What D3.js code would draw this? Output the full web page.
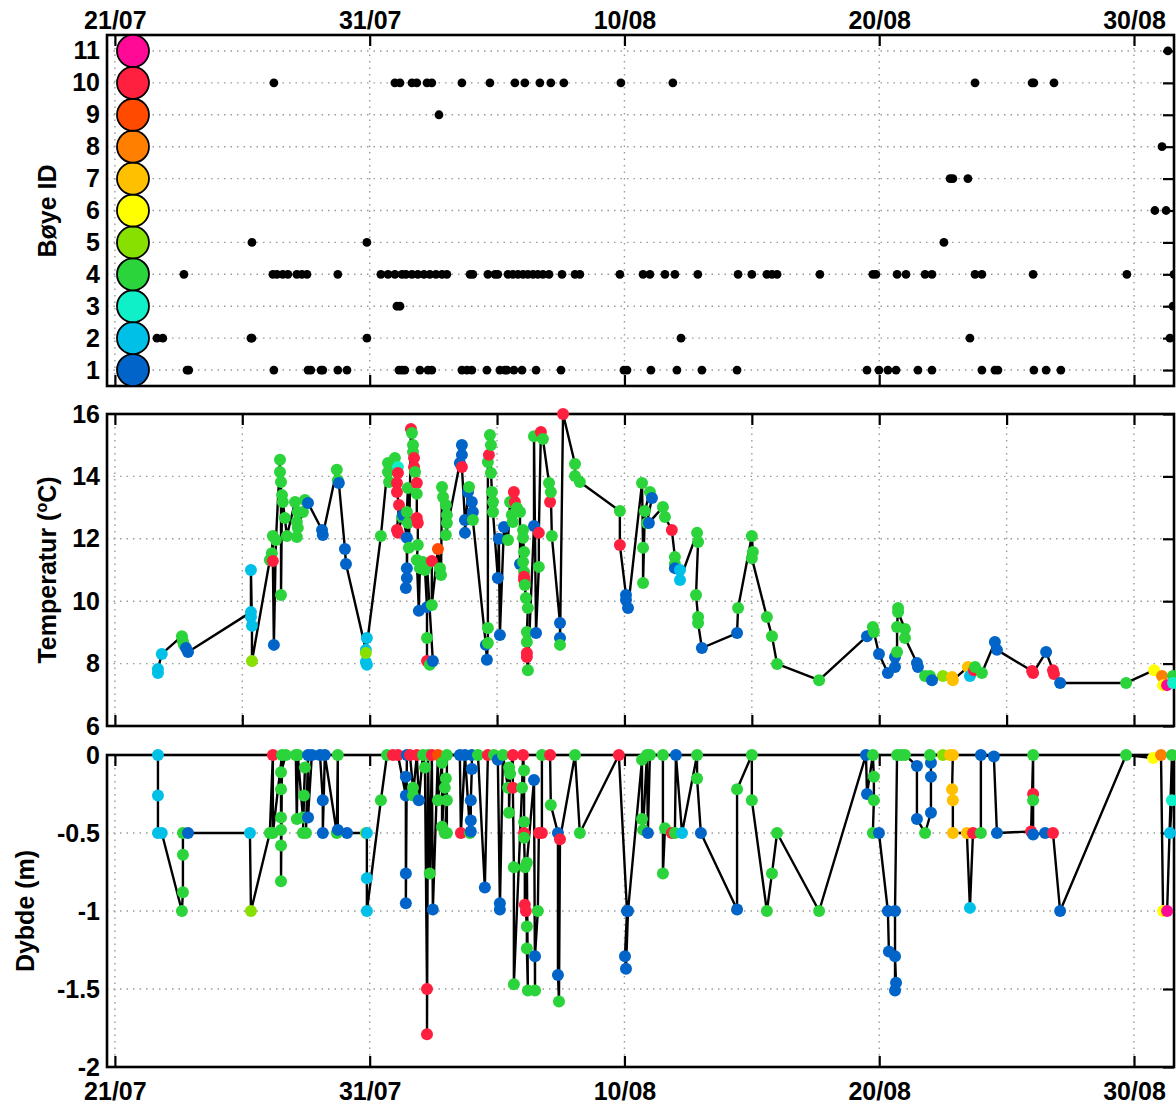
<!DOCTYPE html>
<html lang="no">
<head>
<meta charset="utf-8">
<title>Bøyer - temperatur og dybde</title>
<script src="https://cdn.jsdelivr.net/npm/d3@7/dist/d3.min.js"></script>
<style>
  body { margin: 0; background: #fff; }
</style>
</head>
<body>
<script>
// all times are days after 21/07 00:00

// colour for each buoy, index = id - 1
var buoyColors = ["#0064c8", "#00c0e8", "#10f0c8", "#2ad43a", "#88e000",
                  "#ffff00", "#ffc000", "#ff8000", "#ff4a00", "#ff2040", "#ff0a96"];
var buoyIds = [1, 2, 3, 4, 5, 6, 7, 8, 9, 10, 11];

var dateTicks = [0, 10, 20, 30, 40];
var dateTicksFine = [0, 5, 10, 15, 20, 25, 30, 35, 40];
var tempTicks = [6, 8, 10, 12, 14, 16];
var tempGrid = [8, 10, 12, 14];
var depthTicks = [0, -0.5, -1, -1.5, -2];
var depthGrid = [-0.5, -1, -1.5];

// [day, buoy id]
var buoyObs = [
  [2.83,1],[2.90,1],[6.24,1],[7.58,1],[7.69,1],[8.09,1],[8.16,1],[8.75,1],[9.11,1],[11.15,1],
  [11.27,1],[11.38,1],[11.97,1],[12.29,1],[12.44,1],[13.62,1],[13.82,1],[14.01,1],[14.60,1],
  [15.11,1],[15.31,1],[15.39,1],[15.66,1],[15.98,1],[16.53,1],[17.51,1],[19.98,1],[20.10,1],
  [21.04,1],[22.06,1],[23.04,1],[24.42,1],[29.52,1],[29.99,1],[30.34,1],[30.66,1],[31.52,1],
  [32.07,1],[34.03,1],[34.54,1],[34.66,1],[36.07,1],[36.55,1],[37.13,1],
  [1.65,2],[1.88,2],[5.34,2],[5.38,2],[9.89,2],[22.22,2],[33.56,2],[41.41,2],
  [11.07,3],[11.19,3],[41.53,3],
  [2.71,4],[6.20,4],[6.36,4],[6.59,4],[6.79,4],[7.14,4],[7.34,4],[7.54,4],[8.75,4],[10.44,4],
  [10.72,4],[10.99,4],[11.27,4],[11.42,4],[11.66,4],[11.89,4],[12.13,4],[12.36,4],[12.60,4],
  [12.84,4],[13.03,4],[13.94,4],[14.05,4],[14.64,4],[14.92,4],[15.03,4],[15.43,4],[15.62,4],
  [15.82,4],[16.02,4],[16.21,4],[16.41,4],[16.60,4],[16.80,4],[17.04,4],[17.55,4],[18.06,4],
  [18.25,4],[19.82,4],[20.73,4],[21.00,4],[21.59,4],[21.98,4],[22.88,4],[24.46,4],[25.00,4],
  [25.59,4],[25.79,4],[25.99,4],[27.67,4],[29.75,4],[29.87,4],[30.70,4],[31.05,4],[31.80,4],
  [32.07,4],[33.76,4],[34.03,4],[36.04,4],[39.72,4],[41.57,4],
  [5.38,5],[9.89,5],[32.54,5],
  [40.82,6],[41.26,6],
  [32.78,7],[32.89,7],[33.48,7],
  [41.10,8],
  [12.72,9],
  [6.24,10],[10.99,10],[11.19,10],[11.66,10],[11.85,10],[12.25,10],[12.44,10],[13.62,10],
  [14.72,10],[15.70,10],[16.09,10],[16.68,10],[17.11,10],[17.62,10],[19.86,10],[21.90,10],
  [33.76,10],[36.00,10],[36.07,10],[36.86,10],
  [41.33,11]
];

// [day, temperature degC, buoy id], in logging order
var tempObs = [
  [1.69,7.70,2],[1.69,7.83,2],[1.84,8.31,2],[2.63,8.88,4],[2.67,8.72,4],[2.71,8.60,4],
  [2.79,8.50,1],[2.87,8.37,1],[5.34,9.65,2],[5.34,9.49,2],[5.34,11.00,2],[5.38,9.21,2],
  [5.38,8.08,5],[6.08,11.32,4],[6.16,11.54,4],[6.20,12.09,4],[6.20,11.29,10],[6.24,8.60,1],
  [6.32,11.96,4],[6.48,14.53,4],[6.48,14.14,4],[6.52,13.82,4],[6.52,10.20,4],[6.56,13.40,4],
  [6.59,13.18,4],[6.67,12.67,4],[6.75,12.09,4],[7.07,13.18,4],[7.14,12.54,4],[7.14,12.06,4],
  [7.18,12.86,4],[7.18,12.35,4],[7.38,12.86,4],[7.46,13.24,4],[7.58,13.15,1],[8.13,12.28,1],
  [8.16,12.12,1],[8.71,14.21,4],[8.75,13.88,4],[8.79,13.79,1],[9.03,11.67,1],[9.07,11.19,1],
  [9.85,8.44,2],[9.85,8.05,2],[9.89,7.96,2],[9.89,8.82,2],[9.85,8.34,5],[10.44,12.09,4],
  [10.72,14.43,4],[10.72,14.14,4],[10.76,13.82,4],[10.99,14.59,4],[11.07,13.79,10],[11.11,14.30,3],
  [11.11,14.11,10],[11.07,13.50,10],[11.15,13.08,10],[11.07,12.28,10],[11.11,12.19,10],[11.27,12.70,4],
  [11.31,12.76,1],[11.46,12.03,1],[11.46,11.06,1],[11.42,10.42,1],[11.46,10.74,1],[11.50,13.63,4],
  [11.46,12.86,4],[11.50,12.51,4],[11.54,11.71,4],[11.62,15.52,10],[11.66,15.39,4],[11.70,15.01,4],
  [11.70,14.78,4],[11.74,14.59,10],[11.74,14.30,10],[11.78,14.14,4],[11.85,13.79,10],[11.85,13.44,4],
  [11.85,12.67,10],[11.89,12.51,10],[11.89,11.80,4],[11.85,11.32,4],[11.93,9.69,1],[11.97,11.06,4],
  [12.09,11.26,4],[12.17,11.00,4],[12.25,9.81,1],[12.25,8.82,4],[12.25,8.08,10],[12.36,7.96,4],
  [12.48,8.08,1],[12.25,11.16,4],[12.44,11.29,10],[12.44,9.88,4],[12.68,11.67,9],[12.76,11.06,4],
  [12.80,10.84,4],[12.84,13.66,4],[12.88,13.34,4],[12.99,13.08,4],[13.03,12.76,4],[13.03,12.51,4],
  [12.99,12.12,4],[13.54,14.43,1],[13.62,14.69,1],[13.62,15.01,1],[13.62,14.30,10],[13.74,12.60,1],
  [13.74,12.19,1],[13.86,13.50,1],[13.90,13.66,4],[14.01,13.18,1],[14.05,12.86,1],[14.05,12.60,4],
  [14.56,8.60,1],[14.60,8.12,1],[14.64,8.66,4],[14.64,9.14,4],[14.64,14.46,4],[14.68,14.69,10],
  [14.72,15.33,4],[14.76,15.01,4],[14.76,14.11,4],[14.80,13.50,4],[14.84,13.18,4],[14.84,12.86,4],
  [15.03,10.74,1],[15.07,12.00,1],[15.11,8.92,1],[15.27,12.38,1],[15.43,11.96,4],[15.51,13.18,4],
  [15.58,12.76,4],[15.62,12.54,4],[15.66,13.50,10],[15.70,13.18,10],[15.78,12.99,4],[15.90,12.86,4],
  [15.90,11.19,1],[16.02,12.28,4],[16.02,12.03,4],[16.06,11.58,4],[16.02,11.26,4],[16.06,10.94,4],
  [16.06,10.78,10],[16.06,10.68,10],[16.09,10.52,4],[16.13,10.10,4],[16.21,9.78,4],[16.17,9.01,4],
  [16.17,8.69,4],[16.17,8.34,10],[16.17,8.21,10],[16.21,7.79,4],[16.45,12.41,1],[16.45,15.29,4],
  [16.53,8.98,1],[16.64,11.10,4],[16.64,12.19,10],[16.72,15.42,10],[16.80,15.20,4],[17.04,13.79,4],
  [17.08,13.18,10],[17.11,13.50,4],[17.15,12.09,4],[17.47,9.30,1],[17.47,8.82,1],[17.47,8.60,4],
  [17.59,16.00,10],[18.06,14.40,4],[18.06,14.01,4],[18.25,13.82,4],[19.82,12.89,4],[19.82,11.80,10],
  [20.06,10.20,1],[20.06,10.04,1],[20.14,9.78,1],[20.69,13.79,4],[20.73,11.71,4],[20.73,10.58,4],
  [20.80,12.89,4],[21.00,13.50,4],[21.08,13.31,1],[20.88,12.51,4],[20.96,12.51,1],[21.51,13.02,4],
  [21.59,12.70,4],[21.86,12.28,10],[21.98,11.42,4],[21.98,11.19,4],[21.98,11.06,1],[22.18,11.00,2],
  [22.18,10.68,2],[22.85,12.19,4],[22.89,11.90,4],[22.81,10.20,4],[22.89,9.49,4],[22.89,9.30,4],
  [23.04,8.50,1],[24.42,8.98,1],[24.46,9.78,4],[25.00,12.09,4],[25.04,11.58,4],[25.00,11.38,4],
  [25.59,9.49,4],[25.79,8.88,4],[25.99,7.99,4],[27.64,7.47,4],[29.52,8.88,1],[29.75,9.17,4],
  [29.79,9.01,4],[29.99,8.31,1],[30.34,7.70,1],[30.62,7.89,1],[30.62,8.21,1],[30.70,8.37,4],
  [30.70,9.17,4],[30.74,9.78,4],[30.74,9.65,4],[31.01,9.11,4],[31.01,8.82,4],[31.48,8.02,1],
  [31.52,7.89,1],[31.80,7.60,4],[31.99,7.60,4],[32.07,7.47,1],[32.50,7.60,5],[32.86,7.57,7],
  [32.89,7.47,7],[33.48,7.89,7],[33.56,7.60,2],[33.72,7.79,10],[33.76,7.89,4],[34.03,7.70,4],
  [34.54,8.69,1],[34.62,8.44,1],[36.00,7.76,10],[36.04,7.70,10],[36.55,8.37,1],[36.82,7.79,10],
  [36.86,7.67,10],[37.10,7.38,1],[39.69,7.38,4],[40.79,7.79,6],[41.10,7.60,8],[41.14,7.31,6],
  [41.30,7.31,11],[41.53,7.60,4],[41.53,7.38,3]
];

// [day, depth m, buoy id], in logging order
var depthObs = [
  [1.69,0,2],[1.69,-0.26,2],[1.69,-0.50,2],[1.84,-0.50,2],[2.63,-1.00,4],[2.67,-0.88,4],
  [2.67,-0.64,4],[2.67,-0.50,4],[2.87,-0.50,1],[5.30,-0.50,2],[5.34,-1.00,5],[6.08,-0.50,4],
  [6.20,0,10],[6.20,-0.50,4],[6.56,0,4],[6.52,-0.81,4],[6.52,-0.58,4],[6.52,-0.48,4],
  [6.52,-0.40,4],[6.52,-0.22,4],[6.52,-0.11,4],[6.71,0,4],[7.10,0,4],[7.14,-0.41,4],
  [7.18,0,4],[7.38,-0.40,4],[7.42,-0.26,4],[7.46,-0.08,4],[7.38,-0.50,4],[7.50,-0.50,4],
  [7.58,0,1],[7.58,-0.40,1],[7.73,0,1],[8.05,0,1],[8.16,-0.29,1],[8.16,-0.50,1],
  [8.24,0,1],[8.71,-0.50,4],[8.75,0,4],[8.75,-0.48,1],[9.11,-0.50,1],[9.85,-0.50,5],
  [9.89,-0.50,2],[9.89,-0.79,2],[9.89,-1.00,2],[10.44,-0.29,4],[10.68,0,4],[10.91,0,10],
  [11.11,0,10],[11.42,-0.26,1],[11.42,-0.14,1],[11.42,-0.76,1],[11.42,-0.95,1],[11.46,0,1],
  [11.58,0,10],[11.70,-0.21,4],[11.70,-0.26,4],[11.85,0,10],[11.93,-0.29,1],[12.09,0,4],
  [12.17,-0.08,4],[12.25,-1.50,10],[12.25,-1.79,10],[12.29,0,4],[12.36,-0.76,4],[12.44,0,10],
  [12.48,-0.99,1],[12.68,0,9],[12.68,-0.29,4],[12.84,-0.05,4],[12.84,-0.46,4],[12.95,-0.21,4],
  [12.99,-0.15,4],[13.03,-0.29,4],[12.95,-0.50,4],[13.03,-0.50,4],[13.03,0,4],[13.54,0,1],
  [13.58,-0.50,10],[13.74,0,1],[13.94,-0.50,4],[13.97,-0.49,1],[13.97,-0.42,1],[13.97,-0.29,1],
  [14.01,-0.09,1],[14.01,0,1],[14.25,0,4],[14.52,-0.85,1],[14.64,0,10],[14.88,0,4],
  [15.03,-0.03,1],[15.11,-0.95,1],[15.11,-0.99,1],[15.23,0,4],[15.43,-0.21,4],[15.47,-0.08,4],
  [15.47,-0.37,4],[15.51,-0.12,4],[15.62,0,10],[15.62,-0.21,10],[15.66,-0.72,4],[15.66,-1.47,4],
  [15.98,-0.21,4],[16.02,0,10],[16.06,-0.10,4],[16.06,-0.43,4],[16.06,-0.50,10],[16.06,-0.53,4],
  [16.09,-0.72,4],[16.09,-0.96,10],[16.13,-1.00,10],[16.17,-1.10,4],[16.17,-1.24,4],[16.21,-1.51,4],
  [16.17,-0.69,4],[16.45,-0.16,1],[16.49,-1.51,4],[16.49,-1.29,1],[16.60,-1.00,4],[16.64,-0.50,10],
  [16.76,-0.50,10],[16.76,0,4],[17.08,0,10],[17.11,-0.32,4],[17.39,-0.50,1],[17.39,-1.41,1],
  [17.43,-1.58,4],[17.47,-0.54,10],[18.06,0,4],[18.25,-0.50,4],[19.78,0,10],[20.10,-1.00,1],
  [20.02,-1.29,1],[20.06,-1.37,1],[20.14,-1.00,1],[20.69,-0.03,4],[20.69,-0.41,4],[20.73,-0.48,4],
  [20.88,0,4],[20.92,-0.50,1],[21.00,0,4],[21.51,0,4],[21.51,-0.76,4],[21.59,-0.47,4],
  [21.86,-0.50,10],[21.98,-0.50,4],[22.02,0,1],[22.26,-0.50,2],[22.85,0,4],[22.85,-0.15,4],
  [23.00,-0.50,1],[24.42,-0.99,1],[24.42,-0.22,4],[25.00,0,4],[25.00,-0.29,4],[25.59,-1.00,4],
  [25.79,-0.76,4],[25.99,-0.50,4],[27.64,-1.00,4],[29.48,0,1],[29.52,-0.25,1],[29.75,0,4],
  [29.79,-0.14,4],[29.79,-0.29,4],[29.75,-0.50,4],[29.99,-0.50,1],[30.34,-1.00,1],[30.38,-1.26,1],
  [30.62,-1.29,1],[30.66,-1.46,1],[30.62,-1.51,1],[30.62,-1.00,1],[30.70,0,4],[30.86,0,4],
  [31.01,0,4],[31.48,-0.07,1],[31.48,-0.41,1],[31.80,-0.50,4],[32.03,-0.37,1],[32.03,-0.14,1],
  [32.03,-0.05,1],[31.99,0,4],[32.50,0,5],[32.78,0,7],[32.89,0,7],[32.86,-0.22,7],
  [32.89,-0.29,7],[32.89,-0.50,7],[33.44,-0.50,7],[33.56,-0.98,2],[33.68,-0.50,10],[33.99,-0.50,4],
  [33.99,0,1],[34.50,-0.01,1],[34.62,-0.50,1],[35.96,-0.49,10],[36.04,0,4],[36.04,-0.25,10],
  [36.04,-0.29,4],[36.04,-0.51,1],[36.51,-0.50,1],[36.82,-0.50,10],[37.10,-1.00,1],[39.69,0,4],
  [40.75,-0.02,6],[41.06,0,8],[41.14,-1.00,6],[41.30,-1.00,11],[41.49,0,4],[41.49,-0.29,3],
  [41.41,-0.50,2]
];

// where the colour key sits on the top panel
var legendDay = 0.71;

// ---- layout
var w = 1176, h = 1105;
var left = 107, right = 1174;
var fontStack = '"Liberation Sans", Arial, Helvetica, sans-serif';
var fontSize = 25;

var start = new Date(2014, 6, 21);
var toDate = function(d) { return new Date(start.getTime() + d * 864e5); };
var colorOf = function(id) { return buoyColors[id - 1]; };
var fmt = d3.timeFormat("%d/%m");

var svg = d3.select("body")
            .append("svg")
            .attr("width", w)
            .attr("height", h)
            .attr("font-family", fontStack)
            .attr("font-weight", "bold");

var xScale = d3.scaleTime()
               .domain([toDate(-0.31), toDate(41.57)])
               .range([left, right]);
var yId = d3.scaleLinear().domain([0.5, 11.5]).range([386, 35]);
var yTemp = d3.scaleLinear().domain([6, 16]).range([726, 414]);
var yDepth = d3.scaleLinear().domain([-2, 0]).range([1067, 755]);

// dotted grid
var drawGrid = function(yScale, gridDays, gridVals) {
  var top = yScale.range()[1], bottom = yScale.range()[0];
  var g = svg.append("g")
             .attr("stroke", "#9a9a9a")
             .attr("stroke-width", 1.4)
             .attr("stroke-dasharray", "1.5,5");
  g.selectAll(null).data(gridDays).enter().append("line")
   .attr("x1", function(d) { return xScale(toDate(d)); })
   .attr("x2", function(d) { return xScale(toDate(d)); })
   .attr("y1", top).attr("y2", bottom);
  g.selectAll(null).data(gridVals).enter().append("line")
   .attr("x1", left).attr("x2", right)
   .attr("y1", function(d) { return yScale(d); })
   .attr("y2", function(d) { return yScale(d); });
};

var drawFrame = function(yScale) {
  var top = yScale.range()[1], bottom = yScale.range()[0];
  svg.append("rect")
     .attr("x", left).attr("y", top)
     .attr("width", right - left).attr("height", bottom - top)
     .attr("fill", "none").attr("stroke", "#000").attr("stroke-width", 2.6);
};

// inward ticks on top and bottom, labels optional
var drawXTicks = function(yScale, days, labelSide) {
  var top = yScale.range()[1], bottom = yScale.range()[0];
  var vals = days.map(toDate);
  var gt = svg.append("g").attr("transform", "translate(0," + top + ")")
              .call(d3.axisTop(xScale).tickValues(vals).tickSize(-11).tickPadding(6)
                      .tickFormat(labelSide == "top" ? fmt : ""));
  var gb = svg.append("g").attr("transform", "translate(0," + bottom + ")")
              .call(d3.axisBottom(xScale).tickValues(vals).tickSize(-11).tickPadding(15)
                      .tickFormat(labelSide == "bottom" ? fmt : ""));
  [gt, gb].forEach(function(g) {
    g.attr("font-size", fontSize).attr("font-family", fontStack);
    g.select(".domain").remove();
    g.selectAll(".tick line").attr("stroke-width", 2.2);
  });
};

// labels on the left, inward ticks on the right
var drawYAxis = function(yScale, vals) {
  var gl = svg.append("g").attr("transform", "translate(" + left + ",0)")
              .call(d3.axisLeft(yScale).tickValues(vals).tickSize(0).tickPadding(7)
                      .tickFormat(function(d) { return String(d); }));
  gl.attr("font-size", fontSize).attr("font-family", fontStack);
  gl.select(".domain").remove();
  gl.selectAll(".tick line").remove();
  var gr = svg.append("g").attr("transform", "translate(" + right + ",0)")
              .call(d3.axisRight(yScale).tickValues(vals).tickSize(-11).tickFormat(""));
  gr.select(".domain").remove();
  gr.selectAll(".tick line").attr("stroke-width", 2.2);
};

var yTitle = function(x, y, label) {
  return svg.append("text")
            .attr("transform", "translate(" + x + "," + y + ") rotate(-90)")
            .attr("text-anchor", "middle")
            .attr("font-size", fontSize)
            .text(label);
};

// ---- top panel: which buoy was logged when
drawGrid(yId, dateTicks, buoyIds);
drawFrame(yId);
drawXTicks(yId, dateTicks, "top");
drawYAxis(yId, buoyIds);

svg.append("clipPath").attr("id", "clipTop")
   .append("rect").attr("x", left).attr("y", 35).attr("width", right - left).attr("height", 351);

svg.append("g").attr("clip-path", "url(#clipTop)")
   .selectAll("circle")
   .data(buoyObs)
   .enter()
   .append("circle")
   .attr("cx", function(d) { return xScale(toDate(d[0])); })
   .attr("cy", function(d) { return yId(d[1]); })
   .attr("r", 4.4)
   .attr("fill", "#000");

// colour key
svg.append("g")
   .selectAll("circle")
   .data(buoyIds)
   .enter()
   .append("circle")
   .attr("cx", xScale(toDate(legendDay)))
   .attr("cy", function(d) { return yId(d); })
   .attr("r", 16)
   .attr("fill", colorOf)
   .attr("stroke", "#000")
   .attr("stroke-width", 1.8);

yTitle(56, 211, "Bøye ID");

// ---- middle and bottom panels: same drawing, different value
var plotSeries = function(data, yScale) {
  var line = d3.line()
               .x(function(d) { return xScale(toDate(d[0])); })
               .y(function(d) { return yScale(d[1]); });
  svg.append("path")
     .datum(data)
     .attr("d", line)
     .attr("fill", "none")
     .attr("stroke", "#000")
     .attr("stroke-width", 2.4)
     .attr("stroke-linejoin", "round");
  svg.append("g")
     .selectAll("circle")
     .data(data)
     .enter()
     .append("circle")
     .attr("cx", function(d) { return xScale(toDate(d[0])); })
     .attr("cy", function(d) { return yScale(d[1]); })
     .attr("r", 6)
     .attr("fill", function(d) { return colorOf(d[2]); });
};

drawGrid(yTemp, dateTicksFine, tempGrid);
drawFrame(yTemp);
drawXTicks(yTemp, dateTicksFine, "none");
drawYAxis(yTemp, tempTicks);
plotSeries(tempObs, yTemp);

var tt = yTitle(56, 570, "Temperatur (");
tt.append("tspan").attr("font-size", 16).attr("dy", -9).text("o");
tt.append("tspan").attr("font-size", fontSize).attr("dy", 9).text("C)");

drawGrid(yDepth, dateTicks, depthGrid);
drawFrame(yDepth);
drawXTicks(yDepth, dateTicks, "bottom");
drawYAxis(yDepth, depthTicks);
plotSeries(depthObs, yDepth);

yTitle(34, 911, "Dybde (m)");
</script>
</body>
</html>
